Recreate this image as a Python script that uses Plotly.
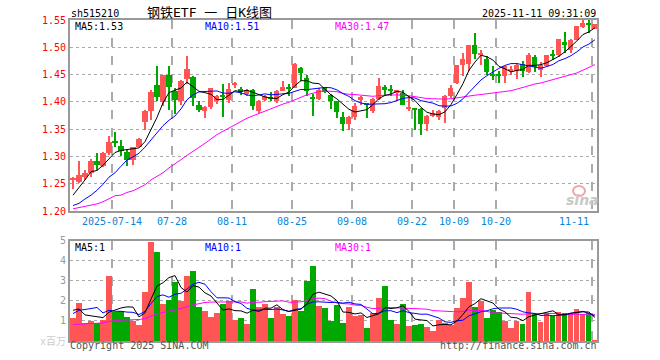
import numpy as np
import pandas as pd
import plotly.graph_objects as go

# ---------------- data ----------------
dates = (
    ["2025-07-%02d" % d for d in [3, 4, 7, 8, 9, 10, 11, 14, 15, 16, 17, 18, 21, 22, 23, 24, 25, 28, 29, 30, 31]]
    + ["2025-08-%02d" % d for d in [1, 4, 5, 6, 7, 8, 11, 12, 13, 14, 15, 18, 19, 20, 21, 22, 25, 26, 27, 28, 29]]
    + ["2025-09-%02d" % d for d in [1, 2, 3, 4, 5, 8, 9, 10, 11, 12, 15, 16, 17, 18, 19, 22, 23, 24, 25, 26, 29, 30]]
    + ["2025-10-%02d" % d for d in [9, 10, 13, 14, 15, 16, 17, 20, 21, 22, 23, 24, 27, 28, 29, 30, 31]]
    + ["2025-11-%02d" % d for d in [3, 4, 5, 6, 7, 10, 11]]
)

opens = [1.258, 1.254, 1.262, 1.269, 1.291, 1.283, 1.306, 1.327, 1.320, 1.309,
         1.293, 1.317, 1.363, 1.383, 1.430, 1.400, 1.449, 1.419, 1.401, 1.441,
         1.446, 1.395, 1.384, 1.390, 1.401, 1.412, 1.404, 1.431, 1.424, 1.415,
         1.422, 1.383, 1.404, 1.4075, 1.401, 1.419, 1.426, 1.425, 1.462, 1.444,
         1.4065, 1.406, 1.4255, 1.413, 1.401, 1.373, 1.360, 1.373, 1.404, 1.396,
         1.383, 1.405, 1.427, 1.4225, 1.416, 1.416, 1.3875, 1.3875, 1.387, 1.360,
         1.375, 1.373, 1.389, 1.411, 1.435, 1.467, 1.470, 1.505, 1.487, 1.478,
         1.4485, 1.448, 1.447, 1.456, 1.456, 1.470, 1.455, 1.483, 1.458, 1.465,
         1.486, 1.486, 1.510, 1.495, 1.513, 1.538, 1.545, 1.534]
highs = [1.263, 1.291, 1.275, 1.295, 1.307, 1.308, 1.338, 1.344, 1.331, 1.312,
         1.318, 1.334, 1.386, 1.421, 1.465, 1.450, 1.465, 1.426, 1.440, 1.484,
         1.448, 1.401, 1.393, 1.426, 1.413, 1.432, 1.435, 1.436, 1.427, 1.424,
         1.424, 1.403, 1.413, 1.418, 1.422, 1.439, 1.432, 1.471, 1.463, 1.450,
         1.415, 1.4255, 1.4255, 1.414, 1.402, 1.381, 1.374, 1.398, 1.411, 1.398,
         1.407, 1.444, 1.430, 1.430, 1.421, 1.421, 1.410, 1.3875, 1.388, 1.376,
         1.386, 1.386, 1.412, 1.430, 1.468, 1.490, 1.505, 1.527, 1.495, 1.484,
         1.465, 1.456, 1.466, 1.465, 1.471, 1.474, 1.489, 1.486, 1.473, 1.486,
         1.495, 1.516, 1.528, 1.515, 1.539, 1.551, 1.551, 1.543]
lows = [1.240, 1.251, 1.256, 1.262, 1.275, 1.280, 1.303, 1.318, 1.300, 1.283,
        1.285, 1.317, 1.349, 1.367, 1.401, 1.393, 1.386, 1.378, 1.395, 1.432,
        1.393, 1.381, 1.370, 1.387, 1.396, 1.373, 1.398, 1.425, 1.413, 1.411,
        1.386, 1.380, 1.401, 1.401, 1.398, 1.419, 1.410, 1.425, 1.438, 1.410,
        1.3735, 1.403, 1.416, 1.387, 1.370, 1.346, 1.348, 1.366, 1.395, 1.370,
        1.380, 1.403, 1.413, 1.410, 1.401, 1.394, 1.383, 1.349, 1.340, 1.346,
        1.373, 1.367, 1.361, 1.407, 1.432, 1.447, 1.456, 1.478, 1.468, 1.450,
        1.440, 1.435, 1.435, 1.450, 1.441, 1.446, 1.452, 1.455, 1.446, 1.464,
        1.476, 1.483, 1.489, 1.489, 1.513, 1.535, 1.527, 1.533]
closes = [1.259, 1.266, 1.270, 1.291, 1.285, 1.307, 1.327, 1.326, 1.310, 1.293,
          1.317, 1.332, 1.383, 1.418, 1.408, 1.449, 1.427, 1.404, 1.439, 1.461,
          1.407, 1.386, 1.391, 1.425, 1.411, 1.410, 1.424, 1.432, 1.418, 1.422,
          1.392, 1.402, 1.411, 1.4065, 1.420, 1.427, 1.425, 1.470, 1.452, 1.419,
          1.4055, 1.421, 1.418, 1.401, 1.381, 1.359, 1.373, 1.393, 1.409, 1.395,
          1.405, 1.429, 1.421, 1.4215, 1.421, 1.395, 1.389, 1.386, 1.360, 1.375,
          1.379, 1.383, 1.411, 1.426, 1.468, 1.478, 1.505, 1.487, 1.489, 1.454,
          1.448, 1.4475, 1.465, 1.460, 1.468, 1.456, 1.486, 1.464, 1.467, 1.486,
          1.485, 1.516, 1.504, 1.514, 1.539, 1.544, 1.540, 1.542]

# volume, millions
volumes = [1.15, 1.9, 0.9, 1.03, 0.93, 1.07, 3.25, 1.45, 1.53, 1.2,
           1.03, 0.8, 2.45, 4.95, 4.45, 1.88, 2.08, 2.95, 2.0, 3.28,
           3.5, 1.7, 1.53, 1.2, 1.43, 1.85, 2.0, 1.08, 1.15, 0.85,
           2.6, 1.7, 1.88, 1.15, 1.7, 1.38, 1.25, 2.08, 1.53, 3.03,
           3.75, 1.78, 1.65, 1.03, 1.83, 0.93, 1.7, 1.25, 1.3, 0.68,
           1.4, 2.15, 2.78, 1.08, 0.88, 1.88, 0.78, 0.83, 0.88, 0.73,
           0.53, 1.08, 0.9, 0.8, 1.68, 2.15, 2.98, 1.7, 2.03, 1.18,
           1.58, 1.45, 1.03, 0.68, 1.03, 0.88, 2.45, 1.43, 0.98, 1.42,
           1.25, 1.48, 1.43, 1.38, 1.63, 1.35, 1.43, 0.08]

# moving-average values at the start of the window (depend on earlier, unseen sessions)
ma5_head = [1.229, 1.242, 1.257, 1.272]
ma10_head = [1.210, 1.214, 1.222, 1.229, 1.238, 1.249, 1.262, 1.270, 1.282]
ma30_head = [1.204, 1.206, 1.209, 1.211, 1.213, 1.217, 1.223, 1.228, 1.229, 1.234,
             1.237, 1.242, 1.248, 1.257, 1.264, 1.270, 1.279, 1.286, 1.294, 1.302,
             1.309, 1.316, 1.324, 1.332, 1.340, 1.346, 1.352, 1.358, 1.363]
vma5_head = [1.53, 1.6, 1.3, 1.25]
vma10_head = [1.37, 1.53, 1.57, 1.62, 1.67, 1.4, 1.53, 1.48, 1.48]
vma30_head = [0.82, 0.83, 0.84, 0.85, 0.86, 0.9, 0.98, 1.02, 1.04, 1.05,
              1.06, 1.07, 1.12, 1.25, 1.35, 1.42, 1.5, 1.55, 1.62, 1.72,
              1.8, 1.86, 1.92, 1.94, 1.95, 1.95, 1.95, 1.95, 1.95]

tick_dates = ["2025-07-14", "2025-07-28", "2025-08-11", "2025-08-25", "2025-09-08",
              "2025-09-22", "2025-10-09", "2025-10-20", "2025-11-11"]
tick_labels = ["2025-07-14", "07-28", "08-11", "08-25", "09-08", "09-22", "10-09", "10-20", "11-11"]

# ---------------- derived ----------------
n = len(dates)
idx = np.arange(n)
o = np.array(opens); h = np.array(highs); l = np.array(lows); c = np.array(closes)
v = np.array(volumes)


def ma(series, w, head):
    s = pd.Series(series).rolling(w).mean().to_numpy()
    s[:len(head)] = head
    return s


ma5 = ma(c, 5, ma5_head); ma10 = ma(c, 10, ma10_head); ma30 = ma(c, 30, ma30_head)
vma5 = ma(v, 5, vma5_head); vma10 = ma(v, 10, vma10_head); vma30 = ma(v, 30, vma30_head)

RED = "#ff5555"
GREEN = "#00a800"
up = c >= o
cols = [RED if u else GREEN for u in up]

body_base = np.minimum(o, c)
body_h = np.maximum(np.abs(c - o), 0.0019)

fig = go.Figure()
# wicks
fig.add_trace(go.Bar(x=idx, y=h - l, base=l, width=0.17, marker=dict(color=cols, line_width=0),
                     xaxis="x", yaxis="y", hoverinfo="skip"))
# bodies
fig.add_trace(go.Bar(x=idx, y=body_h, base=body_base, width=0.84, marker=dict(color=cols, line_width=0),
                     xaxis="x", yaxis="y", hoverinfo="skip"))
for arr, col in [(ma30, "#ff00ff"), (ma10, "#0000ff"), (ma5, "#000000")]:
    fig.add_trace(go.Scatter(x=idx, y=arr, mode="lines", line=dict(color=col, width=1),
                             xaxis="x", yaxis="y", hoverinfo="skip"))

# volume
fig.add_trace(go.Bar(x=idx, y=v, width=0.86, marker=dict(color=cols, line_width=0),
                     xaxis="x2", yaxis="y2", hoverinfo="skip"))
for arr, col in [(vma30, "#ff00ff"), (vma10, "#0000ff"), (vma5, "#000000")]:
    fig.add_trace(go.Scatter(x=idx, y=arr, mode="lines", line=dict(color=col, width=1),
                             xaxis="x2", yaxis="y2", hoverinfo="skip"))

tickpos = [dates.index(d) - 0.5 for d in tick_dates]
# the last label is pulled inside the frame (drawn separately below)
shown_labels = tick_labels[:-1] + [""]

L, R, T, B = 70, 597, 20, 341
W = R - L
Hh = B - T


def px(x):
    return (x - L) / W


def py(y):
    return (B - y) / Hh


MONO = "DejaVu Sans Mono, Liberation Mono, monospace"
XBLUE = "#0a84d8"
xr = [-0.5, 87.35]
common_x = dict(range=xr, tickvals=tickpos, showgrid=True, gridcolor="#aaaaaa", griddash="dash",
                gridwidth=1.5, zeroline=False, showline=True, linecolor="#999999", linewidth=2,
                mirror=True, ticks="", fixedrange=True)

fig.update_layout(
    width=660, height=360,
    margin=dict(l=L, r=660 - R, t=T, b=360 - B),
    paper_bgcolor="white", plot_bgcolor="white",
    barmode="overlay", bargap=0, showlegend=False, hovermode=False,
    xaxis=dict(**common_x, domain=[0, 1], anchor="y", ticktext=shown_labels,
               tickfont=dict(family=MONO, size=10, color=XBLUE)),
    yaxis=dict(domain=[py(211), 1], range=[1.20, 1.55], tickvals=[1.20, 1.25, 1.30, 1.35, 1.40, 1.45, 1.50, 1.55],
               ticktext=["1.20", "1.25", "1.30", "1.35", "1.40", "1.45", "1.50", "1.55"],
               tickfont=dict(family=MONO, size=10, color="#ff0000"),
               showgrid=True, gridcolor="#aaaaaa", griddash="dot", gridwidth=1, zeroline=False,
               showline=True, linecolor="#999999", linewidth=2, mirror=True, ticks="", fixedrange=True),
    xaxis2=dict(**common_x, domain=[0, 1], anchor="y2", showticklabels=False),
    yaxis2=dict(domain=[0, py(240.7)], range=[0, 5], tickvals=[1, 2, 3, 4, 5],
                tickfont=dict(family=MONO, size=10, color="#999999"),
                showgrid=True, gridcolor="#aaaaaa", griddash="dot", gridwidth=1, zeroline=False,
                showline=True, linecolor="#999999", linewidth=2, mirror=True, ticks="", fixedrange=True),
)

# last date label, right-aligned just inside the frame
fig.add_annotation(text=tick_labels[-1], x=px(591), y=py(221), xref="paper", yref="paper",
                   xanchor="right", yanchor="middle", showarrow=False,
                   font=dict(family=MONO, size=10, color=XBLUE))

anns = [
    dict(text="sh515210", x=px(70), y=py(13), xanchor="left", color="#000000", size=10, family=MONO, bg=None),
    dict(text="钢铁ETF 一 日K线图", x=px(209), y=py(12.5), xanchor="center", color="#000000", size=13,
         family="DejaVu Sans Mono, Noto Sans CJK SC", bg=None),
    dict(text="2025-11-11 09:31:09", x=px(597), y=py(13), xanchor="right", color="#000000", size=10,
         family=MONO, bg=None),
    dict(text="MA5:1.53", x=px(74), y=py(26), xanchor="left", color="#000000", size=10, family=MONO, bg="white"),
    dict(text="MA10:1.51", x=px(204), y=py(26), xanchor="left", color="#0000ff", size=10, family=MONO, bg="white"),
    dict(text="MA30:1.47", x=px(334), y=py(26), xanchor="left", color="#ff00ff", size=10, family=MONO, bg="white"),
    dict(text="MA5:1", x=px(74), y=py(247), xanchor="left", color="#000000", size=10, family=MONO, bg="white"),
    dict(text="MA10:1", x=px(204), y=py(247), xanchor="left", color="#0000ff", size=10, family=MONO, bg="white"),
    dict(text="MA30:1", x=px(334), y=py(247), xanchor="left", color="#ff00ff", size=10, family=MONO, bg="white"),
    dict(text="x百万", x=px(67), y=py(341), xanchor="right", color="#cccccc", size=10,
         family="DejaVu Sans Mono, Noto Sans CJK SC", bg=None),
    dict(text="Copyright 2025 SINA.COM", x=px(69), y=py(346), xanchor="left", color="#555555", size=10,
         family=MONO, bg=None),
    dict(text="http://finance.sina.com.cn", x=px(598), y=py(346), xanchor="right", color="#555555", size=10,
         family=MONO, bg=None),
]
for a in anns:
    fig.add_annotation(text=a["text"], x=a["x"], y=a["y"], xref="paper", yref="paper",
                       xanchor=a["xanchor"], yanchor="middle", showarrow=False,
                       bgcolor=a["bg"] if a["bg"] else "rgba(0,0,0,0)", borderpad=0,
                       font=dict(family=a["family"], size=a["size"], color=a["color"]))

# sina watermark
fig.add_annotation(text="sina", x=px(582), y=py(200), xref="paper", yref="paper", xanchor="center",
                   yanchor="middle", showarrow=False,
                   font=dict(family="DejaVu Sans", size=14, color="#c8c8c8", style="italic", weight="bold"))
fig.add_shape(type="circle", xref="paper", yref="paper", x0=px(573), x1=px(585), y0=py(196), y1=py(186),
              line=dict(color="#f2a5a5", width=2))

fig.write_html("out.html", config={"displayModeBar": False},
               post_script="document.body.style.margin='0';document.body.style.padding='0';")
